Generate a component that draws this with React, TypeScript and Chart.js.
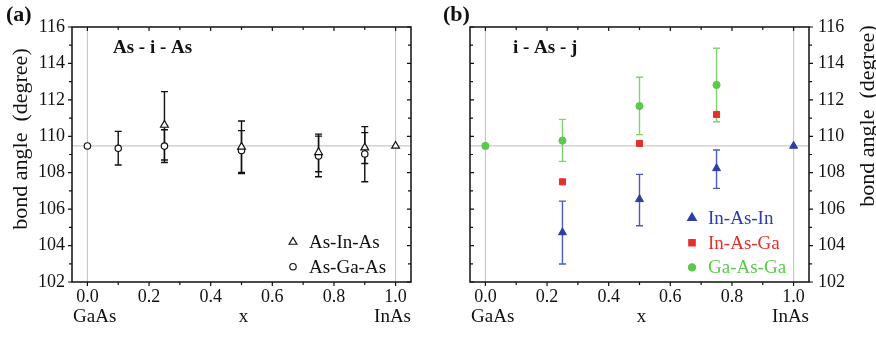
import React, { useEffect, useRef } from 'react';
import { Chart, registerables } from 'chart.js';

Chart.register(...registerables);

// ---------- data ----------
const REF_ANGLE = 109.47;
const REF_X = [0, 1];
const X_TICKS = [0, 0.2, 0.4, 0.6, 0.8, 1.0];
const X_MINOR = [0.1, 0.3, 0.5, 0.7, 0.9];
const Y_TICKS = [102, 104, 106, 108, 110, 112, 114, 116];
const Y_MINOR = [103, 105, 107, 109, 111, 113, 115];

// panel (a): As - i - As
const A_INASIN_X = [0.25, 0.5, 0.75, 0.9, 1.0];
const A_INASIN_Y = [110.62, 109.42, 109.12, 109.38, 109.47];
const A_INASIN_LO = [108.7, 107.96, 108.05, 108.51, null];
const A_INASIN_HI = [112.45, 110.84, 110.12, 110.53, null];

const A_ASGAAS_X = [0, 0.1, 0.25, 0.5, 0.75, 0.9];
const A_ASGAAS_Y = [109.47, 109.34, 109.46, 109.22, 108.92, 109.03];
const A_ASGAAS_LO = [null, 108.42, 108.56, 108.02, 107.78, 107.5];
const A_ASGAAS_HI = [null, 110.27, 110.36, 110.31, 110.01, 110.2];

// panel (b): i - As - j
const B_ININ_X = [0.25, 0.5, 0.75, 1.0];
const B_ININ_Y = [104.72, 106.54, 108.24, 109.47];
const B_ININ_LO = [102.99, 105.09, 107.14, null];
const B_ININ_HI = [106.44, 107.91, 109.25, null];

const B_INGA_X = [0.25, 0.5, 0.75];
const B_INGA_Y = [107.5, 109.61, 111.2];

const B_GAGA_X = [0, 0.25, 0.5, 0.75];
const B_GAGA_Y = [109.47, 109.76, 111.66, 112.82];
const B_GAGA_LO = [null, 108.62, 110.09, 110.8];
const B_GAGA_HI = [null, 110.93, 113.24, 114.83];

const SERIF = '"Liberation Serif", "DejaVu Serif", serif';
const BLUE = '#2b3ea6';
const RED = '#e3302a';
const GREEN = '#5cc94c';

function pts(xs: number[], ys: number[]) {
  return xs.map((x, i) => ({ x, y: ys[i] }));
}

function drawMarker(ctx: CanvasRenderingContext2D, style: string, x: number, y: number, r: number, fill: string, stroke: string) {
  ctx.beginPath();
  if (style === 'triangle') {
    const h = r * 1.5;
    const s = r * Math.sqrt(3) / 2;
    ctx.moveTo(x, y - r);
    ctx.lineTo(x + s, y - r + h);
    ctx.lineTo(x - s, y - r + h);
    ctx.closePath();
  } else if (style === 'rect') {
    const s = r * Math.SQRT1_2;
    ctx.rect(x - s, y - s, 2 * s, 2 * s);
  } else {
    ctx.arc(x, y, r, 0, Math.PI * 2);
  }
  ctx.fillStyle = fill;
  ctx.fill();
  ctx.strokeStyle = stroke;
  ctx.lineWidth = 1.2;
  ctx.stroke();
}

type LegendItem = { label: string; style: string; r: number; fill: string; stroke: string; color: string };
type PanelCfg = {
  panelLabel: string;
  title: string;
  titleDx: number;
  legend: LegendItem[];
  legendDx: number;
  legendDy: number;
  ticksLeft: 'in' | 'out';
  ticksRight: 'in' | 'out';
  yTitleX: number;
  yTitleY: number;
  panelLabelX: number;
};

function decorPlugin(cfg: PanelCfg) {
  return {
    id: 'decor',
    beforeDatasetsDraw(chart: any) {
      const { ctx, chartArea: ca } = chart;
      const xs = chart.scales.x;
      const ys = chart.scales.y;
      ctx.save();
      ctx.strokeStyle = '#c9c9c9';
      ctx.lineWidth = 1.2;
      const ry = ys.getPixelForValue(REF_ANGLE);
      ctx.beginPath();
      ctx.moveTo(ca.left, ry);
      ctx.lineTo(ca.right, ry);
      REF_X.forEach((v) => {
        const px = xs.getPixelForValue(v);
        ctx.moveTo(px, ca.top);
        ctx.lineTo(px, ca.bottom);
      });
      ctx.stroke();
      chart.data.datasets.forEach((ds: any) => {
        if (!ds.errLow) return;
        ctx.strokeStyle = ds.errColor;
        ctx.lineWidth = 1.4;
        ds.data.forEach((p: any, j: number) => {
          const lo = ds.errLow[j];
          const hi = ds.errHigh[j];
          if (lo == null || hi == null) return;
          const px = xs.getPixelForValue(p.x);
          const pl = ys.getPixelForValue(lo);
          const ph = ys.getPixelForValue(hi);
          const cw = 3.5;
          ctx.beginPath();
          ctx.moveTo(px, pl);
          ctx.lineTo(px, ph);
          ctx.moveTo(px - cw, pl);
          ctx.lineTo(px + cw, pl);
          ctx.moveTo(px - cw, ph);
          ctx.lineTo(px + cw, ph);
          ctx.stroke();
        });
      });
      ctx.restore();
    },
    afterDraw(chart: any) {
      const { ctx, chartArea: ca } = chart;
      const xs = chart.scales.x;
      const ys = chart.scales.y;
      ctx.save();
      // frame
      ctx.strokeStyle = '#111';
      ctx.lineWidth = 1.5;
      ctx.strokeRect(ca.left, ca.top, ca.right - ca.left, ca.bottom - ca.top);
      // ticks
      ctx.lineWidth = 1.2;
      ctx.beginPath();
      const addX = (vals: number[], len: number) => {
        vals.forEach((v) => {
          const px = xs.getPixelForValue(v);
          ctx.moveTo(px, ca.bottom);
          ctx.lineTo(px, ca.bottom + len);
          ctx.moveTo(px, ca.top);
          ctx.lineTo(px, ca.top + len);
        });
      };
      addX(X_TICKS, 4);
      addX(X_MINOR, 3);
      const addY = (vals: number[], len: number) => {
        vals.forEach((v) => {
          const py = ys.getPixelForValue(v);
          ctx.moveTo(ca.left, py);
          ctx.lineTo(ca.left + (cfg.ticksLeft === 'out' ? -len : len), py);
          ctx.moveTo(ca.right, py);
          ctx.lineTo(ca.right + (cfg.ticksRight === 'out' ? len : -len), py);
        });
      };
      addY(Y_TICKS, 4);
      addY(Y_MINOR, 3);
      ctx.stroke();

      ctx.fillStyle = '#111';
      ctx.textBaseline = 'middle';
      // panel label
      ctx.font = `bold 22px ${SERIF}`;
      ctx.textAlign = 'left';
      ctx.fillText(cfg.panelLabel, cfg.panelLabelX, 15);
      // title
      ctx.font = `bold 19px ${SERIF}`;
      ctx.fillText(cfg.title, ca.left + cfg.titleDx, ca.top + 21);
      // legend
      ctx.font = `19px ${SERIF}`;
      cfg.legend.forEach((it, i) => {
        const ly = ca.top + cfg.legendDy + i * 24.7;
        const lx = ca.left + cfg.legendDx;
        drawMarker(ctx, it.style, lx, ly, it.r, it.fill, it.stroke);
        ctx.fillStyle = it.color;
        ctx.textAlign = 'left';
        ctx.fillText(it.label, lx + 16, ly + 1);
      });
      // x sub labels
      ctx.fillStyle = '#111';
      ctx.font = `19px ${SERIF}`;
      const sy = ca.bottom + 35;
      ctx.textAlign = 'left';
      ctx.fillText('GaAs', ca.left + 1, sy);
      ctx.textAlign = 'center';
      ctx.fillText('x', (ca.left + ca.right) / 2 + 2, sy);
      ctx.textAlign = 'right';
      ctx.fillText('InAs', ca.right, sy);
      // y title
      ctx.save();
      ctx.translate(cfg.yTitleX, cfg.yTitleY);
      ctx.rotate(-Math.PI / 2);
      ctx.textAlign = 'center';
      ctx.font = `22px ${SERIF}`;
      ctx.fillText('bond angle  (degree)', 0, 0);
      ctx.restore();
      ctx.restore();
    },
  };
}

function baseScales(yPos: 'left' | 'right', yWidth: number, showYLabels: boolean) {
  return {
    x: {
      type: 'linear',
      min: -0.05,
      max: 1.05,
      afterBuildTicks: (s: any) => {
        s.ticks = X_TICKS.map((v) => ({ value: v }));
      },
      afterFit: (s: any) => {
        s.height = 56;
      },
      grid: { display: false, drawTicks: false },
      border: { display: false },
      ticks: {
        autoSkip: false,
        maxRotation: 0,
        padding: 4,
        color: '#111',
        font: { family: SERIF, size: 18 },
        callback: (v: any) => Number(v).toFixed(1),
      },
    },
    y: {
      type: 'linear',
      position: yPos,
      min: 102,
      max: 116,
      afterBuildTicks: (s: any) => {
        s.ticks = Y_TICKS.map((v) => ({ value: v }));
      },
      afterFit: (s: any) => {
        s.width = yWidth;
      },
      grid: { display: false, drawTicks: false },
      border: { display: false },
      ticks: {
        display: showYLabels,
        padding: yPos === 'left' ? 7 : 9,
        color: '#111',
        font: { family: SERIF, size: 18 },
      },
    },
  };
}

function PanelA() {
  const ref = useRef<HTMLCanvasElement>(null);
  useEffect(() => {
    const cfg: PanelCfg = {
      panelLabel: '(a)',
      title: 'As - i - As',
      titleDx: 41,
      legend: [
        { label: 'As-In-As', style: 'triangle', r: 4.5, fill: '#fff', stroke: '#111', color: '#111' },
        { label: 'As-Ga-As', style: 'circle', r: 3.2, fill: '#fff', stroke: '#111', color: '#111' },
      ],
      legendDx: 221,
      legendDy: 215,
      ticksLeft: 'out',
      ticksRight: 'in',
      yTitleX: 21,
      yTitleY: 139,
      panelLabelX: 6,
    };
    const chart = new Chart(ref.current as HTMLCanvasElement, {
      type: 'scatter',
      data: {
        datasets: [
          {
            label: 'As-In-As',
            data: pts(A_INASIN_X, A_INASIN_Y),
            pointStyle: 'triangle',
            radius: 4.5,
            backgroundColor: '#fff',
            borderColor: '#111',
            borderWidth: 1.2,
            errLow: A_INASIN_LO,
            errHigh: A_INASIN_HI,
            errColor: '#111',
          } as any,
          {
            label: 'As-Ga-As',
            data: pts(A_ASGAAS_X, A_ASGAAS_Y),
            pointStyle: 'circle',
            radius: 3.2,
            backgroundColor: '#fff',
            borderColor: '#111',
            borderWidth: 1.2,
            errLow: A_ASGAAS_LO,
            errHigh: A_ASGAAS_HI,
            errColor: '#111',
          } as any,
        ],
      },
      options: {
        animation: false,
        responsive: false,
        maintainAspectRatio: false,
        layout: { padding: { left: 0, top: 27, right: 27, bottom: 0 } },
        plugins: { legend: { display: false }, tooltip: { enabled: false } },
        scales: baseScales('left', 72, true) as any,
      },
      plugins: [decorPlugin(cfg)],
    });
    return () => chart.destroy();
  }, []);
  return <canvas ref={ref} width={438} height={338} style={{ position: 'absolute', left: 0, top: 0, width: 438, height: 338 }} />;
}

function PanelB() {
  const ref = useRef<HTMLCanvasElement>(null);
  useEffect(() => {
    const cfg: PanelCfg = {
      panelLabel: '(b)',
      title: 'i - As - j',
      titleDx: 43,
      legend: [
        { label: 'In-As-In', style: 'triangle', r: 5, fill: BLUE, stroke: BLUE, color: BLUE },
        { label: 'In-As-Ga', style: 'rect', r: 4.5, fill: RED, stroke: RED, color: RED },
        { label: 'Ga-As-Ga', style: 'circle', r: 3.6, fill: GREEN, stroke: GREEN, color: GREEN },
      ],
      legendDx: 222,
      legendDy: 191,
      ticksLeft: 'in',
      ticksRight: 'out',
      yTitleX: 430,
      yTitleY: 116,
      panelLabelX: 5,
    };
    const chart = new Chart(ref.current as HTMLCanvasElement, {
      type: 'scatter',
      data: {
        datasets: [
          {
            label: 'In-As-In',
            data: pts(B_ININ_X, B_ININ_Y),
            pointStyle: 'triangle',
            radius: 4.6,
            backgroundColor: BLUE,
            borderColor: BLUE,
            borderWidth: 1,
            errLow: B_ININ_LO,
            errHigh: B_ININ_HI,
            errColor: '#4a5cc0',
          } as any,
          {
            label: 'In-As-Ga',
            data: pts(B_INGA_X, B_INGA_Y),
            pointStyle: 'rect',
            radius: 4.3,
            backgroundColor: RED,
            borderColor: RED,
            borderWidth: 1,
          } as any,
          {
            label: 'Ga-As-Ga',
            data: pts(B_GAGA_X, B_GAGA_Y),
            pointStyle: 'circle',
            radius: 3.6,
            backgroundColor: GREEN,
            borderColor: GREEN,
            borderWidth: 1,
            errLow: B_GAGA_LO,
            errHigh: B_GAGA_HI,
            errColor: '#7fd46f',
          } as any,
        ],
      },
      options: {
        animation: false,
        responsive: false,
        maintainAspectRatio: false,
        layout: { padding: { left: 32, top: 27, right: 0, bottom: 0 } },
        plugins: { legend: { display: false }, tooltip: { enabled: false } },
        scales: baseScales('right', 67, true) as any,
      },
      plugins: [decorPlugin(cfg)],
    });
    return () => chart.destroy();
  }, []);
  return <canvas ref={ref} width={438} height={338} style={{ position: 'absolute', left: 438, top: 0, width: 438, height: 338 }} />;
}

export default function App() {
  useEffect(() => {
    document.body.style.margin = '0';
    document.body.style.background = '#fff';
  }, []);
  return (
    <div style={{ position: 'absolute', left: 0, top: 0, width: 876, height: 338, background: '#fff' }}>
      <PanelA />
      <PanelB />
    </div>
  );
}
